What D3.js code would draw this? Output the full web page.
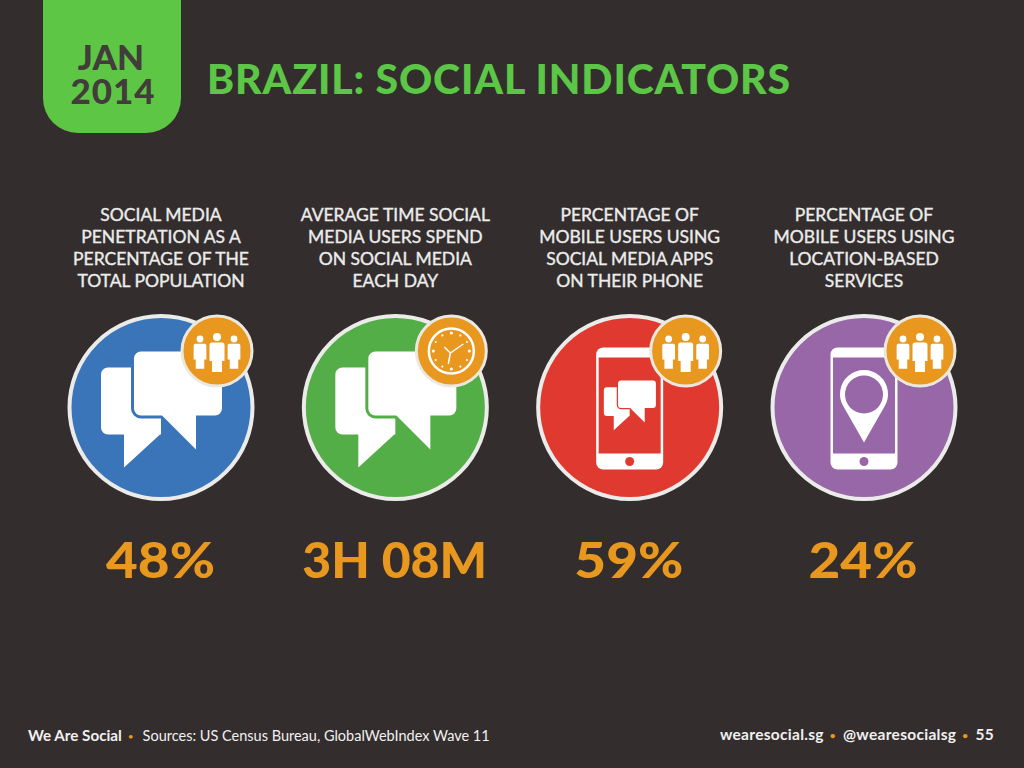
<!DOCTYPE html>
<html>
<head>
<meta charset="utf-8">
<script src="https://cdn.jsdelivr.net/npm/d3@7"></script>
<style>
  html, body { margin: 0; padding: 0; background: #332e2d; overflow: hidden; }
  text { font-family: Lato, sans-serif; }
</style>
</head>
<body>
<div id="chart"></div>
<script>
// Chart data
const categories = ['penetration', 'time', 'mobile', 'location'];
const labelLines = [
    ['SOCIAL MEDIA', 'PENETRATION AS A', 'PERCENTAGE OF THE', 'TOTAL POPULATION'],
    ['AVERAGE TIME SOCIAL', 'MEDIA USERS SPEND', 'ON SOCIAL MEDIA', 'EACH DAY'],
    ['PERCENTAGE OF', 'MOBILE USERS USING', 'SOCIAL MEDIA APPS', 'ON THEIR PHONE'],
    ['PERCENTAGE OF', 'MOBILE USERS USING', 'LOCATION-BASED', 'SERVICES']
];
const values = ['48%', '3H 08M', '59%', '24%'];
const circleColors = ['#3a75b9', '#54ae47', '#e03a30', '#9767a8'];
const mainIcons = ['chat', 'chat', 'phoneChat', 'phonePin'];
const badgeIcons = ['people', 'clock', 'people', 'people'];

const width = 1024, height = 768;
const orange = '#e8981f', green = '#5dc745', white = '#ffffff', bg = '#332e2d';

const svg = d3.select('#chart').append('svg')
    .attr('width', width)
    .attr('height', height)
    .style('display', 'block');

svg.append('rect').attr('width', width).attr('height', height).attr('fill', bg);

// Date tab, rounded at the bottom only
svg.append('path')
    .attr('d', 'M43,0H181V98A35,35 0 0 1 146,133H78A35,35 0 0 1 43,98Z')
    .attr('fill', green);
const dateText = svg.append('text').attr('text-anchor', 'middle')
    .attr('font-size', 35).attr('font-weight', 900).attr('fill', '#423c3a');
dateText.append('tspan').attr('x', 111).attr('y', 70).text('JAN');
dateText.append('tspan').attr('x', 113).attr('y', 104).attr('letter-spacing', 1).text('2014');

svg.append('text').attr('x', 207).attr('y', 94)
    .attr('font-size', 41).attr('font-weight', 900).attr('letter-spacing', 0.85).attr('fill', '#5cc646')
    .text('BRAZIL: SOCIAL INDICATORS');

// One column per indicator; the big numbers sit very slightly left of the circles
const x = d3.scalePoint().domain(categories).range([161, 864]);
const xValue = d3.scalePoint().domain(categories).range([160.5, 863]);

const columns = svg.selectAll('g.column')
    .data(categories)
    .join('g')
    .attr('class', 'column')
    .attr('transform', d => `translate(${x(d)},0)`);

columns.append('text')
    .attr('text-anchor', 'middle')
    .attr('font-size', 17.5)
    .attr('font-weight', 400)
    .attr('fill', '#ececec')
    .attr('stroke', '#ececec')
    .attr('stroke-width', 0.35)
    .selectAll('tspan')
    .data((d, i) => labelLines[i])
    .join('tspan')
    .attr('x', 0)
    .attr('y', (d, i) => 221 + i * 22)
    .text(d => d);

svg.selectAll('text.value')
    .data(categories)
    .join('text')
    .attr('class', 'value')
    .attr('x', d => xValue(d))
    .attr('y', 578)
    .attr('text-anchor', 'middle')
    .attr('font-size', 50)
    .attr('font-weight', 900)
    .attr('fill', orange)
    .attr('textLength', (d, i) => values[i].endsWith('%') ? 109 : 185)
    .attr('lengthAdjust', 'spacingAndGlyphs')
    .text((d, i) => values[i]);

// Main circle + icon
const disc = columns.append('g').attr('transform', 'translate(0,407.5)');
disc.append('circle')
    .attr('r', 91.5)
    .attr('fill', (d, i) => circleColors[i])
    .attr('stroke', '#ebebe9')
    .attr('stroke-width', 4);

function drawChat(g, color) {
    g.append('path')
        .attr('d', 'M-53,-40H0V27H-1L-37,60V27H-53A7,7 0 0 1 -60,20V-33A7,7 0 0 1 -53,-40Z')
        .attr('fill', white);
    g.append('path')
        .attr('d', 'M-20,-56H54A7,7 0 0 1 61,-49V1A7,7 0 0 1 54,8H35V42L1,8H-20A7,7 0 0 1 -27,1V-49A7,7 0 0 1 -20,-56Z')
        .attr('fill', white)
        .attr('stroke', color)
        .attr('stroke-width', 6)
        .attr('paint-order', 'stroke');
}

function drawPhone(g, color) {
    g.append('rect').attr('x', -33.5).attr('y', -60).attr('width', 67).attr('height', 122).attr('rx', 7).attr('fill', white);
    g.append('rect').attr('x', -31).attr('y', -50).attr('width', 62).attr('height', 96).attr('fill', color);
    g.append('circle').attr('cy', 54).attr('r', 4.5).attr('fill', color);
}

disc.each(function (d, i) {
    const g = d3.select(this);
    const color = circleColors[i];
    if (mainIcons[i] === 'chat') {
        drawChat(g, color);
    } else {
        drawPhone(g, color);
        if (mainIcons[i] === 'phoneChat') {
            drawChat(g.append('g').attr('transform', 'translate(0,-3) scale(0.43)'), color);
        } else {
            g.append('path')
                .attr('d', 'M0,35L-20.5,-1A24,24 0 1 1 20.5,-1Z')
                .attr('fill', white);
            g.append('circle').attr('cy', -13).attr('r', 19).attr('fill', color);
        }
    }
});

// Orange badge
const badge = columns.append('g').attr('transform', 'translate(56,351)');
badge.append('circle')
    .attr('r', 35)
    .attr('fill', orange)
    .attr('stroke', '#ebe8e0')
    .attr('stroke-width', 3);

function drawPerson(g, cx, headY, scale) {
    const p = g.append('g').attr('transform', `translate(${cx},${headY}) scale(${scale})`);
    p.append('circle').attr('r', 4).attr('fill', white);
    p.append('path')
        .attr('d', 'M-5.5,5.5H5.5Q7.5,5.5 7.5,8V24H5V35H-5V24H-7.5V8Q-7.5,5.5 -5.5,5.5Z')
        .attr('fill', white);
}

function drawClock(g) {
    g.append('circle').attr('r', 22.5).attr('fill', 'none').attr('stroke', white).attr('stroke-width', 2.5);
    g.selectAll('circle.dot')
        .data(d3.range(12))
        .join('circle')
        .attr('class', 'dot')
        .attr('cx', h => 18 * Math.sin(h * Math.PI / 6))
        .attr('cy', h => -18 * Math.cos(h * Math.PI / 6))
        .attr('r', h => h % 3 === 0 ? 1.6 : 1.1)
        .attr('fill', white);
    g.append('path')
        .attr('d', 'M-7,-4L-1,2L12,-7M-1,2L-3,13')
        .attr('fill', 'none')
        .attr('stroke', white)
        .attr('stroke-width', 1.5);
}

badge.each(function (d, i) {
    const g = d3.select(this);
    if (badgeIcons[i] === 'clock') {
        drawClock(g);
    } else {
        drawPerson(g, -17, -12, 0.85);
        drawPerson(g, 17, -12, 0.85);
        drawPerson(g, 0, -14, 1);
    }
});

// Footer
function addBullet(text) {
    text.append('tspan').attr('fill', orange).attr('font-size', 10).attr('dx', 6).attr('dy', -1).text('•');
}

const footerLeft = svg.append('text').attr('x', 28).attr('y', 741).attr('font-size', 14.5).attr('fill', '#f0f0f0');
footerLeft.append('tspan').attr('font-weight', 700).attr('font-size', 15.2).text('We Are Social');
addBullet(footerLeft);
footerLeft.append('tspan').attr('dx', 9).attr('dy', 1).text('Sources: US Census Bureau, GlobalWebIndex Wave 11');

const footerRight = svg.append('text').attr('x', 994).attr('y', 740).attr('text-anchor', 'end')
    .attr('font-size', 15.5).attr('font-weight', 700).attr('letter-spacing', 0.3).attr('fill', '#f0f0f0');
footerRight.append('tspan').text('wearesocial.sg');
addBullet(footerRight);
footerRight.append('tspan').attr('dx', 7).attr('dy', 1).text('@wearesocialsg');
addBullet(footerRight);
footerRight.append('tspan').attr('dx', 7).attr('dy', 1).text('55');
</script>
</body>
</html>
